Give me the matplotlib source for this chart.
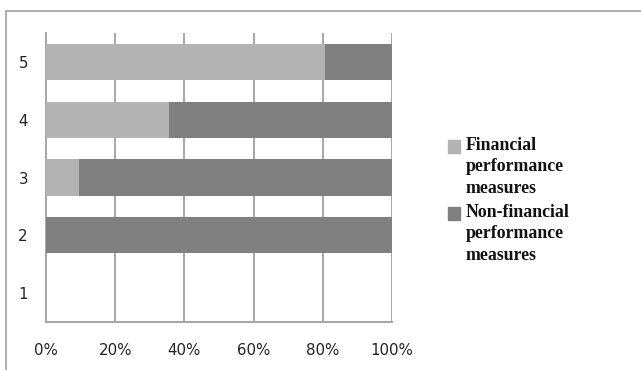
import matplotlib.pyplot as plt
from matplotlib.patches import Rectangle

# share of each measure type per rating (percent)
categories = ["1", "2", "3", "4", "5"]
financial = [0, 0, 9.4, 35.5, 80.7]
non_financial = [0, 100, 90.6, 64.5, 19.3]
series_names = ["Financial\nperformance\nmeasures", "Non-financial\nperformance\nmeasures"]
x_ticks = [0, 20, 40, 60, 80, 100]
x_tick_labels = ["0%", "20%", "40%", "60%", "80%", "100%"]

LIGHT = "#b3b3b3"
DARK = "#808080"
GRID = "#a6a6a6"

W, H = 641, 370
fig = plt.figure(figsize=(W / 100, H / 100), dpi=100)
ax = fig.add_axes([0.0718, 0.1305, 0.54, 0.7795])

pos = list(range(1, len(categories) + 1))
b1 = ax.barh(pos, financial, height=0.63, color=LIGHT, zorder=3)
b2 = ax.barh(pos, non_financial, left=financial, height=0.63, color=DARK, zorder=3)

ax.set_xlim(0, 100)
ax.set_ylim(0.5, 5.5)
ax.set_xticks(x_ticks)
ax.set_xticklabels(x_tick_labels)
ax.set_yticks(pos)
ax.set_yticklabels(categories)
ax.tick_params(axis="both", length=0, labelsize=10.8, labelcolor="#222222")
ax.tick_params(axis="x", pad=15)
ax.tick_params(axis="y", pad=13)

ax.grid(axis="x", color=GRID, linewidth=1.4, zorder=1)
ax.set_axisbelow(True)
for s in ["top", "right"]:
    ax.spines[s].set_visible(False)
for s in ["left", "bottom"]:
    ax.spines[s].set_color(GRID)
    ax.spines[s].set_linewidth(1.4)

# legend: square key next to the first line of each wrapped label
key_tops = [140, 207]
for name, color, top in zip(series_names, [LIGHT, DARK], key_tops):
    fig.patches.append(Rectangle((448 / W, 1 - (top + 13) / H), 12 / W, 13 / H,
                                 transform=fig.transFigure, color=color))
    fig.text(466 / W, 1 - (top - 3) / H, name, va="top", ha="left",
             family="Liberation Serif", weight="bold", size=12.8,
             linespacing=1.33, color="#111111")

# outer chart frame
fig.patches.append(Rectangle((5.5 / W, -0.1), 1.2, 1.1 - 11 / H,
                             transform=fig.transFigure, fill=False,
                             edgecolor="#a0a0a0", linewidth=1.2))

fig.savefig("out.png", dpi=100)
